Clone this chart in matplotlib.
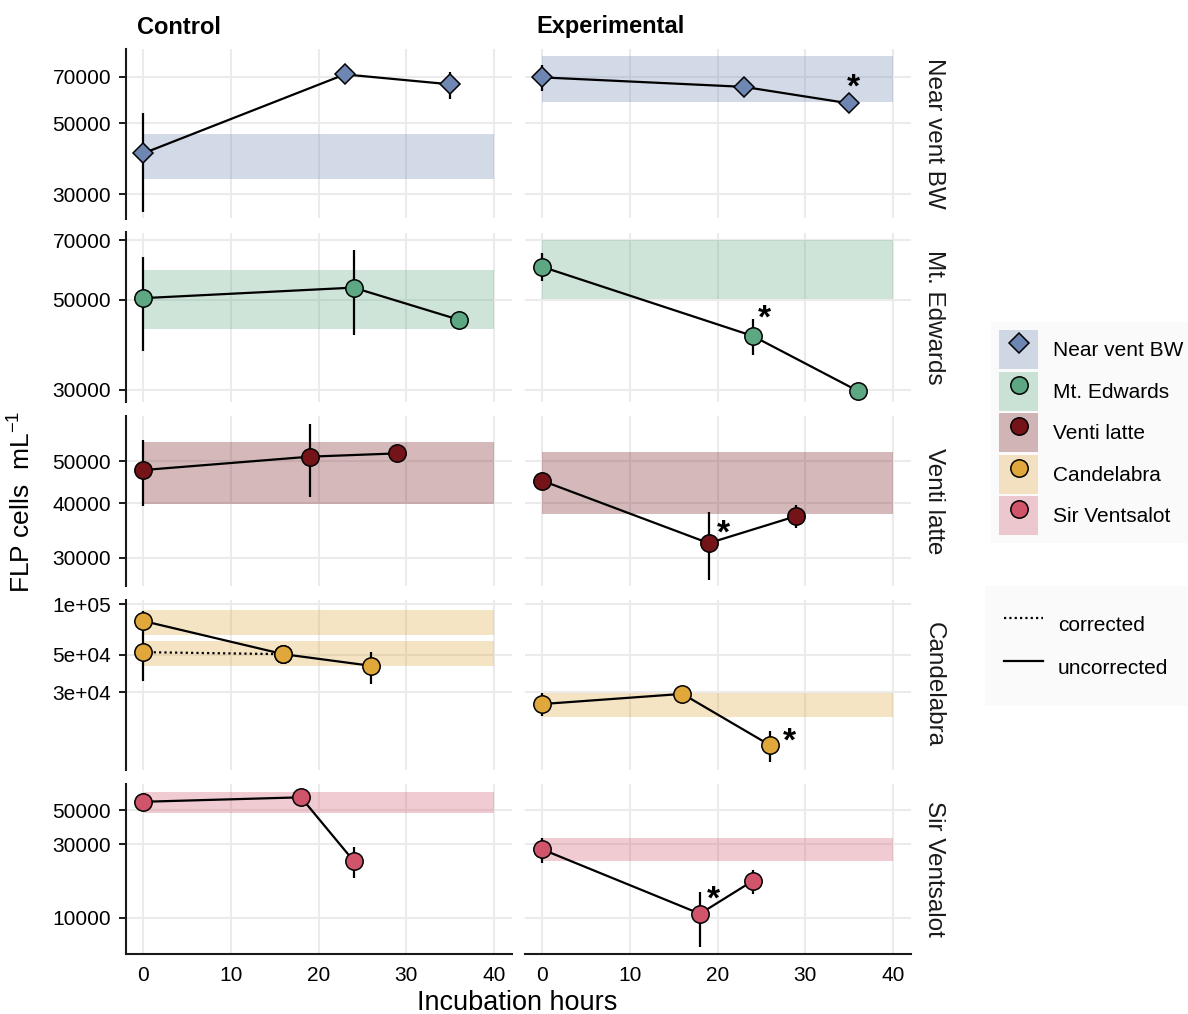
import matplotlib
matplotlib.use("Agg")
import matplotlib.pyplot as plt
from matplotlib.lines import Line2D
from matplotlib.patches import Patch
from matplotlib.legend_handler import HandlerTuple
from matplotlib.ticker import NullLocator

plt.rcParams["font.family"] = ["Liberation Sans", "DejaVu Sans"]
plt.rcParams["mathtext.fontset"] = "custom"
plt.rcParams["mathtext.rm"] = "Liberation Sans"
plt.rcParams["mathtext.it"] = "Liberation Sans:italic"

sites = ["Near vent BW", "Mt. Edwards", "Venti latte", "Candelabra", "Sir Ventsalot"]
site_colors = ["#6E87B2", "#5DA882", "#751418", "#E0A73A", "#D0546A"]
site_markers = ["D", "o", "o", "o", "o"]
treatments = ["Control", "Experimental"]
band_hours = [0, 40]

# Near vent BW
nv_ctrl_hours = [0, 23, 35]
nv_ctrl_cells = [40300, 71200, 66300]
nv_ctrl_low = [26400, 71200, 59500]
nv_ctrl_high = [54000, 71200, 72600]
nv_ctrl_band = [33500, 46500]
nv_exp_hours = [0, 23, 35]
nv_exp_cells = [69700, 65100, 57800]
nv_exp_low = [63200, 65100, 57800]
nv_exp_high = [76200, 65100, 57800]
nv_exp_band = [58400, 81300]

# Mt. Edwards
me_ctrl_hours = [0, 24, 36]
me_ctrl_cells = [50400, 53500, 44600]
me_ctrl_low = [37400, 40900, 44600]
me_ctrl_high = [63600, 66100, 44600]
me_ctrl_band = [42400, 59000]
me_exp_hours = [0, 24, 36]
me_exp_cells = [60200, 40700, 29800]
me_exp_low = [55500, 36500, 29800]
me_exp_high = [65200, 44900, 29800]
me_exp_band = [50300, 70000]

# Venti latte
vl_ctrl_hours = [0, 19, 29]
vl_ctrl_cells = [47700, 51200, 52100]
vl_ctrl_low = [39400, 41400, 52100]
vl_ctrl_high = [55900, 60900, 52100]
vl_ctrl_band = [39900, 55400]
vl_exp_hours = [0, 19, 29]
vl_exp_cells = [45100, 32400, 37400]
vl_exp_low = [45100, 26700, 35100]
vl_exp_high = [45100, 38200, 39700]
vl_exp_band = [37800, 52400]

# Candelabra (control has a corrected t0 value too)
cd_ctrl_hours = [0, 16, 26]
cd_ctrl_cells = [79400, 50500, 43100]
cd_ctrl_low = [62000, 50500, 33700]
cd_ctrl_high = [91300, 50500, 52300]
cd_ctrl_band = [65700, 92200]
cd_corr_hours = [0, 16]
cd_corr_cells = [51900, 50500]
cd_corr_low = [35100, 50500]
cd_corr_high = [62000, 50500]
cd_corr_band = [43100, 60500]
cd_exp_hours = [0, 16, 26]
cd_exp_cells = [25600, 29400, 14600]
cd_exp_low = [21700, 29400, 11600]
cd_exp_high = [29800, 29400, 17700]
cd_exp_band = [21500, 29800]

# Sir Ventsalot
sv_ctrl_hours = [0, 18, 24]
sv_ctrl_cells = [56600, 60500, 23400]
sv_ctrl_low = [56600, 60500, 18200]
sv_ctrl_high = [56600, 60500, 28600]
sv_ctrl_band = [47600, 65800]
sv_exp_hours = [0, 18, 24]
sv_exp_cells = [27800, 10600, 17300]
sv_exp_low = [22700, 6440, 14300]
sv_exp_high = [32700, 14700, 20300]
sv_exp_band = [23400, 32700]

# significant points in experimental panels (index of hour)
star_points = [2, 1, 1, 2, 1]

row_ticks = [[30000, 50000, 70000], [30000, 50000, 70000], [30000, 40000, 50000],
             [30000, 50000, 100000], [10000, 30000, 50000]]
row_ticklabels = [["30000", "50000", "70000"], ["30000", "50000", "70000"],
                  ["30000", "40000", "50000"], ["3e+04", "5e+04", "1e+05"],
                  ["10000", "30000", "50000"]]
row_ylims = [(25220, 85500), (27990, 73100), (25900, 63490), (10500, 105600), (5850, 73850)]

panels = [
    [(nv_ctrl_hours, nv_ctrl_cells, nv_ctrl_low, nv_ctrl_high, nv_ctrl_band),
     (nv_exp_hours, nv_exp_cells, nv_exp_low, nv_exp_high, nv_exp_band)],
    [(me_ctrl_hours, me_ctrl_cells, me_ctrl_low, me_ctrl_high, me_ctrl_band),
     (me_exp_hours, me_exp_cells, me_exp_low, me_exp_high, me_exp_band)],
    [(vl_ctrl_hours, vl_ctrl_cells, vl_ctrl_low, vl_ctrl_high, vl_ctrl_band),
     (vl_exp_hours, vl_exp_cells, vl_exp_low, vl_exp_high, vl_exp_band)],
    [(cd_ctrl_hours, cd_ctrl_cells, cd_ctrl_low, cd_ctrl_high, cd_ctrl_band),
     (cd_exp_hours, cd_exp_cells, cd_exp_low, cd_exp_high, cd_exp_band)],
    [(sv_ctrl_hours, sv_ctrl_cells, sv_ctrl_low, sv_ctrl_high, sv_ctrl_band),
     (sv_exp_hours, sv_exp_cells, sv_exp_low, sv_exp_high, sv_exp_band)],
]
star_offsets = [(4, 15), (12, 17), (15, 9), (19, 3), (13, 14)]  # pixels

W, H = 1188, 1014
fig = plt.figure(figsize=(W / 100, H / 100), dpi=100)
col_left = [125.5, 524.5]
panel_w = 386
row_top = [49, 232.5, 416, 600, 784]
panel_h = 169.5
dotted = (0, (1, 1.4))


def draw_series(ax, hours, cells, low, high, band, color, marker, ls="-"):
    ax.fill_between(band_hours, band[0], band[1], color=color, alpha=0.3, lw=0, zorder=1)
    ax.vlines(hours, low, high, color="black", lw=1.6, zorder=2)
    ax.plot(hours, cells, color="black", lw=1.6, ls=ls, zorder=3)
    ax.plot(hours, cells, ls="none", marker=marker, ms=10.5 if marker == "D" else 12.5,
            mfc=color, mec="black", mew=1.1, zorder=4)


for r in range(5):
    for c in range(2):
        ax = fig.add_axes([col_left[c] / W, 1 - (row_top[r] + panel_h) / H, panel_w / W, panel_h / H])
        ax.set_yscale("log")
        ax.set_xlim(-2, 42)
        ax.set_ylim(*row_ylims[r])
        ax.set_axisbelow(True)
        ax.grid(color="#EBEBEB", lw=1.5)
        ax.set_xticks([0, 10, 20, 30, 40])
        ax.set_yticks(row_ticks[r])
        ax.set_yticklabels(row_ticklabels[r])
        ax.yaxis.set_minor_locator(NullLocator())
        for s in ax.spines.values():
            s.set_visible(False)
        ax.tick_params(axis="y", labelsize=15, length=4.8, width=1.4, pad=5.5, color="#1a1a1a")
        ax.tick_params(axis="x", labelsize=15, length=0, pad=9)
        if c == 0:
            ax.spines["left"].set_visible(True)
            ax.spines["left"].set_linewidth(1.5)
            ax.spines["left"].set_color("#1a1a1a")
        else:
            ax.tick_params(axis="y", left=False, labelleft=False)
        if r == 4:
            ax.spines["bottom"].set_visible(True)
            ax.spines["bottom"].set_linewidth(1.5)
            ax.spines["bottom"].set_color("#1a1a1a")
        else:
            ax.tick_params(axis="x", labelbottom=False)

        hours, cells, low, high, band = panels[r][c]
        draw_series(ax, hours, cells, low, high, band, site_colors[r], site_markers[r])
        if r == 3 and c == 0:
            draw_series(ax, cd_corr_hours, cd_corr_cells, cd_corr_low, cd_corr_high,
                        cd_corr_band, site_colors[r], site_markers[r], ls=dotted)
        if c == 1:
            i = star_points[r]
            ax.annotate("*", (hours[i], cells[i]), xytext=star_offsets[r],
                        textcoords="offset pixels", ha="center", va="center",
                        fontsize=24, fontweight="bold", zorder=5)

    fig.text(934 / W, 1 - (row_top[r] + panel_h / 2) / H, sites[r], rotation=-90,
             ha="center", va="center", fontsize=17.5, color="#1a1a1a")

for c in range(2):
    fig.text((col_left[c] + 12) / W, 1 - 27 / H, treatments[c], fontsize=17,
             fontweight="bold", ha="left", va="center")

fig.text(22 / W, 1 - 502 / H, r"FLP cells  mL$^{-1}$", rotation=90, ha="center",
         va="center", fontsize=19)
fig.text(517 / W, 1 - 1003 / H, "Incubation hours", ha="center", va="center", fontsize=19.5)

# legends
site_handles = []
for col, mk in zip(site_colors, site_markers):
    site_handles.append((Patch(facecolor=col, alpha=0.3, edgecolor="none"),
                         Line2D([], [], ls="none", marker=mk, ms=10.5 if mk == "D" else 12.5,
                                mfc=col, mec="black", mew=1.1)))
leg1 = fig.legend(site_handles, sites, loc="upper left", bbox_to_anchor=(991 / W, 1 - 322 / H),
                  fontsize=15, handlelength=1.875, handleheight=2.5, labelspacing=0.12,
                  handletextpad=0.72, borderpad=0.4, borderaxespad=0, fancybox=False,
                  handler_map={tuple: HandlerTuple(ndivide=1)})
leg1.get_frame().set_facecolor("#F9F9F9")
leg1.get_frame().set_edgecolor("none")

line_handles = [Line2D([], [], color="black", lw=1.6, ls=dotted),
                Line2D([], [], color="black", lw=1.6)]
leg2 = fig.legend(line_handles, ["corrected", "uncorrected"], loc="upper left",
                  bbox_to_anchor=(985 / W, 1 - 586 / H), fontsize=15, handlelength=1.875,
                  handleheight=2.5, labelspacing=0.2, handletextpad=0.72, borderpad=0.9,
                  borderaxespad=0, fancybox=False)
leg2.get_frame().set_facecolor("#F9F9F9")
leg2.get_frame().set_edgecolor("none")

fig.savefig("out.png", dpi=100)
